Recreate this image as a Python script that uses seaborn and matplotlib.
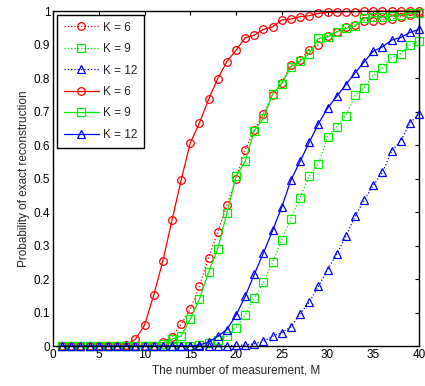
import numpy as np
import pandas as pd
import seaborn as sns
import matplotlib.pyplot as plt

M = np.arange(1, 41)

# dotted curves
k6_dot = [0, 0, 0, 0, 0, 0, 0, 0, 0, 0, 0, 0.012, 0.027, 0.065, 0.11, 0.178, 0.264, 0.34, 0.42, 0.5,
          0.585, 0.645, 0.693, 0.75, 0.786, 0.838, 0.853, 0.885, 0.9, 0.926, 0.938, 0.951, 0.958, 0.971, 0.971,
          0.973, 0.976, 0.983, 0.988, 0.995]
k9_dot = [0, 0, 0, 0, 0, 0, 0, 0, 0, 0, 0, 0, 0, 0, 0, 0.003, 0.008, 0.017, 0.029, 0.055,
          0.092, 0.143, 0.19, 0.25, 0.317, 0.38, 0.443, 0.508, 0.543, 0.625, 0.655, 0.688, 0.748, 0.771, 0.808,
          0.83, 0.861, 0.873, 0.898, 0.911]
k12_dot = [0, 0, 0, 0, 0, 0, 0, 0, 0, 0, 0, 0, 0, 0, 0, 0, 0, 0, 0, 0.002,
           0.003, 0.007, 0.014, 0.029, 0.04, 0.057, 0.097, 0.131, 0.178, 0.228, 0.274, 0.327, 0.387, 0.435, 0.48,
           0.518, 0.581, 0.613, 0.665, 0.693]
# solid curves
k6_sol = [0, 0, 0, 0, 0, 0, 0, 0.004, 0.02, 0.062, 0.151, 0.254, 0.375, 0.495, 0.606, 0.666, 0.736, 0.798, 0.849, 0.883,
          0.92, 0.928, 0.945, 0.953, 0.973, 0.976, 0.983, 0.986, 0.993, 0.996, 0.997, 0.998, 0.998, 0.999, 0.999,
          1.0, 1.0, 1.0, 1.0, 1.0]
k9_sol = [0, 0, 0, 0, 0, 0, 0, 0, 0, 0, 0, 0.005, 0.02, 0.03, 0.08, 0.14, 0.22, 0.29, 0.397, 0.506,
          0.551, 0.643, 0.68, 0.752, 0.783, 0.833, 0.85, 0.873, 0.918, 0.923, 0.938, 0.948, 0.955, 0.978, 0.983,
          0.983, 0.985, 0.988, 0.993, 0.995]
k12_sol = [0, 0, 0, 0, 0, 0, 0, 0, 0, 0, 0, 0, 0, 0, 0, 0.003, 0.012, 0.029, 0.049, 0.092,
           0.148, 0.214, 0.278, 0.345, 0.415, 0.495, 0.551, 0.608, 0.663, 0.71, 0.745, 0.78, 0.815, 0.848, 0.88,
           0.893, 0.913, 0.921, 0.936, 0.945]

labels = ["K = 6", "K = 9", "K = 12", "K = 6", "K = 9", "K = 12"]
series = [k6_dot, k9_dot, k12_dot, k6_sol, k9_sol, k12_sol]
colors = ["#ff0000", "#00ee00", "#0000ff", "#ff0000", "#00ee00", "#0000ff"]
markers = ["o", "s", "^", "o", "s", "^"]
styles = [":", ":", ":", "-", "-", "-"]

sns.set_style("white")
plt.rcParams['font.family'] = ['Liberation Sans Narrow', 'Liberation Sans', 'DejaVu Sans']

fig = plt.figure(figsize=(4.25, 3.86), dpi=100)
ax = fig.add_axes([0.1247, 0.1036, 0.8613, 0.8679])

for y, lab, c, mk, ls in zip(series, labels, colors, markers, styles):
    df = pd.DataFrame({"M": M, "P": y})
    sns.lineplot(data=df, x="M", y="P", ax=ax, color=c, marker=mk, linestyle=ls,
                 linewidth=0.9, markersize=5.5, markerfacecolor="none",
                 markeredgecolor=c, markeredgewidth=0.9, label=lab, clip_on=False)

ax.set_xlim(0, 40)
ax.set_ylim(0, 1)
ax.set_xticks(np.arange(0, 41, 5))
ax.set_yticks(np.arange(0, 1.01, 0.1))
ax.set_yticklabels(["0", "0.1", "0.2", "0.3", "0.4", "0.5", "0.6", "0.7", "0.8", "0.9", "1"])
ax.tick_params(direction="in", length=3, width=0.8, top=True, right=True,
               labelsize=8.5, pad=2, colors="black")
for sp in ax.spines.values():
    sp.set_visible(True)
    sp.set_color("black")
    sp.set_linewidth(1.0)
ax.set_xlabel("The number of measurement, M", fontsize=8.5, labelpad=3)
ax.set_ylabel("Probability of exact reconstruction", fontsize=8.5, labelpad=3)

leg = ax.legend(loc="upper left", fontsize=8.5, frameon=True, fancybox=False,
                edgecolor="black", borderaxespad=0.3, handlelength=3.0,
                handletextpad=0.3, labelspacing=0.8, borderpad=0.6)
leg.get_frame().set_linewidth(1.0)
leg.get_frame().set_alpha(1.0)
leg.set_zorder(10)

fig.savefig("out.png", dpi=100)
